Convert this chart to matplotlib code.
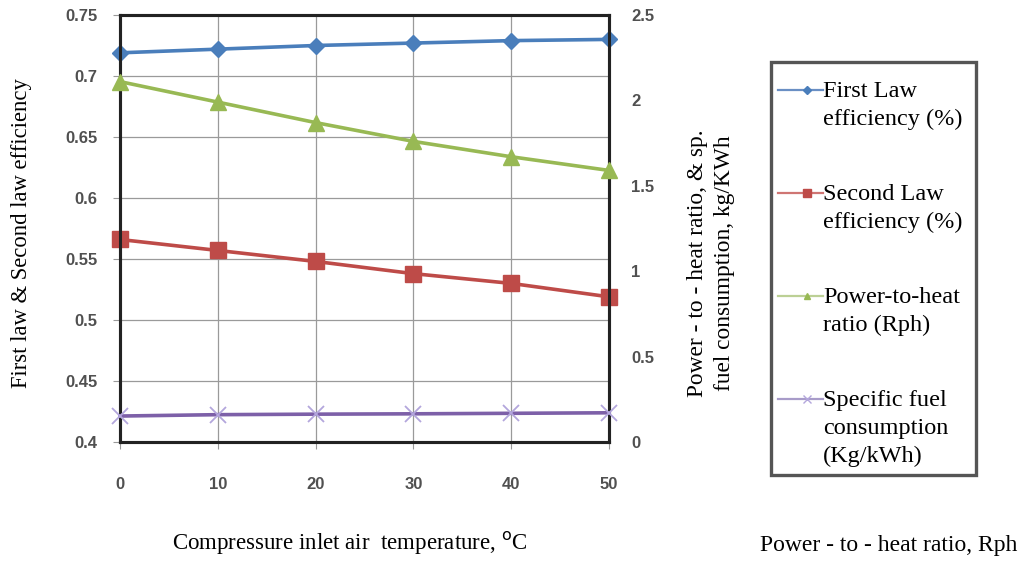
import matplotlib
matplotlib.use("Agg")
import matplotlib.pyplot as plt
from matplotlib.lines import Line2D
from matplotlib.patches import Rectangle

# ---- data ----
temperature = [0, 10, 20, 30, 40, 50]
first_law = [0.719, 0.722, 0.725, 0.727, 0.729, 0.730]
second_law = [0.566, 0.557, 0.548, 0.538, 0.530, 0.519]
power_to_heat = [2.11, 1.99, 1.87, 1.76, 1.67, 1.59]
specific_fuel = [0.152, 0.160, 0.163, 0.165, 0.168, 0.171]

x_ticks = [0, 10, 20, 30, 40, 50]
left_ticks = [0.4, 0.45, 0.5, 0.55, 0.6, 0.65, 0.7, 0.75]
left_ticklabels = ["0.4", "0.45", "0.5", "0.55", "0.6", "0.65", "0.7", "0.75"]
right_ticks = [0, 0.5, 1, 1.5, 2, 2.5]
right_ticklabels = ["0", "0.5", "1", "1.5", "2", "2.5"]

legend_labels = [["First Law", "efficiency (%)"],
                 ["Second Law", "efficiency (%)"],
                 ["Power-to-heat", "ratio (Rph)"],
                 ["Specific fuel", "consumption", "(Kg/kWh)"]]

c_blue, c_red, c_green, c_purple = "#4a7ebb", "#be4b48", "#98b954", "#7d60a8"
c_purple_mk = "#b3a6dc"

serif = "Liberation Serif"
sans = "Liberation Sans"
tick_color = "#505050"

W, H = 1026, 564
fig = plt.figure(figsize=(W / 100, H / 100), dpi=100)
L, R, T, B = 120, 609, 15, 442
ax = fig.add_axes([L / W, 1 - B / H, (R - L) / W, (B - T) / H])
ax2 = ax.twinx()

ax.plot(temperature, first_law, color=c_blue, lw=2.6, marker="D", ms=8,
        mfc=c_blue, mec=c_blue, zorder=4, clip_on=False)
ax.plot(temperature, second_law, color=c_red, lw=2.6, marker="s", ms=11,
        mfc=c_red, mec=c_red, zorder=4, clip_on=False)
ax2.plot(temperature, power_to_heat, color=c_green, lw=2.6, marker="^", ms=11,
         mfc=c_green, mec=c_green, zorder=4, clip_on=False)
ax2.plot(temperature, specific_fuel, color=c_purple, lw=2.6, marker="x", ms=11,
         mew=1.3, mfc=c_purple_mk, mec=c_purple_mk, zorder=4, clip_on=False)

ax.set_xlim(0, 50)
ax.set_ylim(0.4, 0.75)
ax2.set_ylim(0, 2.5)
tick_font = dict(fontfamily=sans, fontsize=12, color=tick_color, fontweight="bold")
ax.set_xticks(x_ticks)
ax.set_xticklabels([str(t) for t in x_ticks], **tick_font)
ax.set_yticks(left_ticks)
ax.set_yticklabels(left_ticklabels, **tick_font)
ax2.set_yticks(right_ticks)
ax2.set_yticklabels(right_ticklabels, **tick_font)

ax.grid(True, color="#9a9a9a", lw=0.9)
ax.set_axisbelow(True)
for a in (ax, ax2):
    for s in a.spines.values():
        s.set_color("#222222")
        s.set_linewidth(2.2)
ax.tick_params(axis="y", length=5, color="#9a9a9a", pad=11)
ax.tick_params(axis="x", length=5, color="#9a9a9a", pad=20)
ax2.tick_params(axis="y", length=0, pad=16)

# axis titles
fig.text(22 / W, 1 - 233 / H, "First law & Second law efficiency", rotation=90,
         ha="center", va="center", fontfamily=serif, fontsize=16.3)
fig.text(711 / W, 1 - 263 / H, "Power - to - heat ratio, & sp.\nfuel consumption, kg/KWh",
         rotation=90, ha="center", va="center", fontfamily=serif, fontsize=16.8,
         linespacing=1.38, multialignment="center")
fig.text(350 / W, 1 - 543 / H, "Compressure inlet air  temperature, $^{\\mathrm{o}}$C",
         ha="center", va="center", fontfamily=serif, fontsize=16.5)
fig.text(889 / W, 1 - 545 / H, "Power - to - heat ratio, Rph",
         ha="center", va="center", fontfamily=serif, fontsize=17)

# legend (manual layout)
fig.patches.append(Rectangle((771 / W, 1 - 475 / H), (976 - 771) / W, (475 - 62) / H,
                             transform=fig.transFigure, fill=False, ec="#555555", lw=2.4))
leg_styles = [
    dict(color="#6a8fc4", marker="D", ms=4, mfc=c_blue, mec=c_blue),
    dict(color="#cf7573", marker="s", ms=6, mfc=c_red, mec=c_red),
    dict(color="#bcd095", marker="^", ms=5, mfc=c_green, mec=c_green),
    dict(color="#a89cc9", marker="x", ms=6, mfc=c_purple_mk, mec=c_purple_mk),
]
leg_baseline = [97, 200, 303, 406]
line_step = 28
for lines, st, yb in zip(legend_labels, leg_styles, leg_baseline):
    yh = 1 - (yb - 7) / H
    fig.add_artist(Line2D([778 / W, 807 / W, 823 / W], [yh, yh, yh],
                          transform=fig.transFigure, lw=1.6, markevery=[1], **st))
    for i, ln in enumerate(lines):
        fig.text(823 / W, 1 - (yb + i * line_step) / H, ln, ha="left", va="baseline",
                 fontfamily=serif, fontsize=17.5)

fig.savefig("out.png", dpi=100)
